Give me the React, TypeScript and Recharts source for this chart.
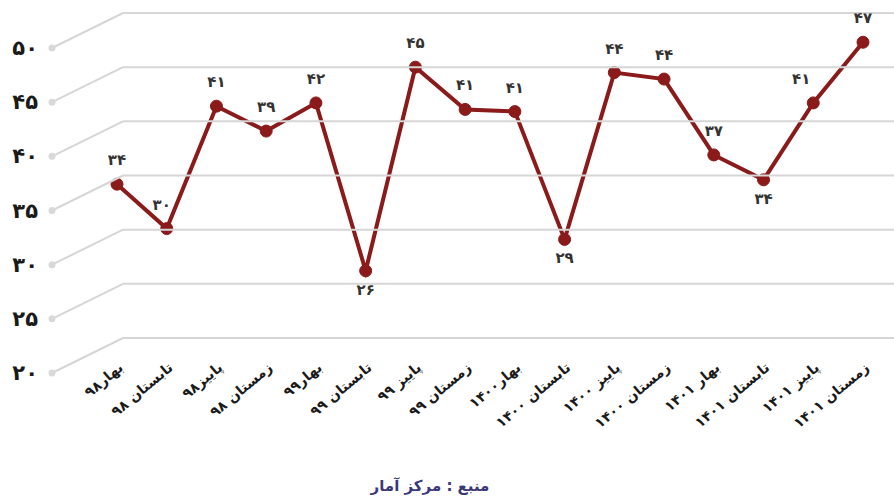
import React from 'react';
import { LineChart, Line, XAxis, YAxis, LabelList } from 'recharts';

const categories = [
  'بهار۹۸', 'تابستان ۹۸', 'پاییز۹۸', 'زمستان ۹۸',
  'بهار۹۹', 'تابستان ۹۹', 'پاییز ۹۹', 'زمستان ۹۹',
  'بهار۱۴۰۰', 'تابستان ۱۴۰۰', 'پاییز ۱۴۰۰', 'زمستان ۱۴۰۰',
  'بهار ۱۴۰۱', 'تابستان ۱۴۰۱', 'پاییز ۱۴۰۱', 'زمستان ۱۴۰۱',
];
const values = [34.2, 30.1, 41.4, 39.1, 41.7, 26.2, 45.0, 41.1, 40.9, 29.1, 44.5, 43.9, 36.9, 34.6, 41.7, 47.3];
const valueLabels = [34, 30, 41, 39, 42, 26, 45, 41, 41, 29, 44, 44, 37, 34, 41, 47];
const yTicks = [20, 25, 30, 35, 40, 45, 50];
const sourceText = 'منبع : مرکز آمار';

const data = categories.map((c, i) => ({ name: c, value: values[i], label: valueLabels[i] }));

const FA = '۰۱۲۳۴۵۶۷۸۹';
const toFa = (n: number | string) => String(n).replace(/[0-9]/g, (d) => FA[Number(d)]);

const FONT = '"DejaVu Sans", sans-serif';
const BELOW = new Set([5, 9, 13]);
const SHIFT_LEFT: Record<number, number> = { 1: -5, 14: -12 };

const YTick = (props: any) => {
  const { y, payload } = props;
  const backX = 123;
  const frontX = 52;
  const fy = y + 35;
  return (
    <g>
      <line x1={backX} y1={y} x2={894} y2={y} stroke="#d6d6d6" strokeWidth={2} />
      <line x1={frontX} y1={fy} x2={backX} y2={y} stroke="#d6d6d6" strokeWidth={2} />
      <circle cx={frontX} cy={fy} r={3.5} fill="#d9d9d9" />
      <text x={38} y={fy} textAnchor="end" dominantBaseline="central" fontFamily={FONT}
        fontWeight="bold" fontSize={21} fill="#1a1a1a">{toFa(payload.value)}</text>
    </g>
  );
};

const XTick = (props: any) => {
  const { x, payload } = props;
  const ax = x + 7;
  const ay = 369;
  return (
    <text x={ax} y={ay} textAnchor="end" transform={`rotate(-40, ${ax}, ${ay})`} fontFamily={FONT}
      fontWeight="bold" fontSize={14} fill="#1a1a1a">{payload.value}</text>
  );
};

const ValueLabel = (props: any) => {
  const { x, y, index, value } = props;
  const below = BELOW.has(index);
  const dx = SHIFT_LEFT[index] || 0;
  return (
    <text x={x + dx} y={below ? y + 19 : y - 24} textAnchor="middle" dominantBaseline="central"
      fontFamily={FONT} fontWeight="bold" fontSize={15} fill="#333">{toFa(value)}</text>
  );
};

export default function App() {
  return (
    <div style={{ position: 'absolute', left: 0, top: 0, width: 894, height: 499, background: '#fff' }}>
      <LineChart width={894} height={499} data={data} margin={{ top: 13, right: 31, bottom: 131, left: 57 }}>
        <YAxis domain={[20, 50]} ticks={yTicks} width={60} axisLine={false} tickLine={false} tick={<YTick />} interval={0} />
        <XAxis dataKey="name" scale="point" padding={{ left: 0, right: 0 }} height={30} axisLine={false}
          tickLine={false} tick={<XTick />} interval={0} />
        <Line type="linear" dataKey="value" stroke="#8b1a1a" strokeWidth={4}
          dot={{ r: 6, fill: '#8b1a1a', stroke: '#8b1a1a', strokeWidth: 1 }} isAnimationActive={false}>
          <LabelList dataKey="label" content={<ValueLabel />} />
        </Line>
      </LineChart>
      <div style={{ position: 'absolute', left: 0, width: 860, top: 477, textAlign: 'center', fontFamily: FONT,
        fontWeight: 'bold', fontSize: 15, color: '#3b3877', direction: 'rtl' }}>{sourceText}</div>
    </div>
  );
}
